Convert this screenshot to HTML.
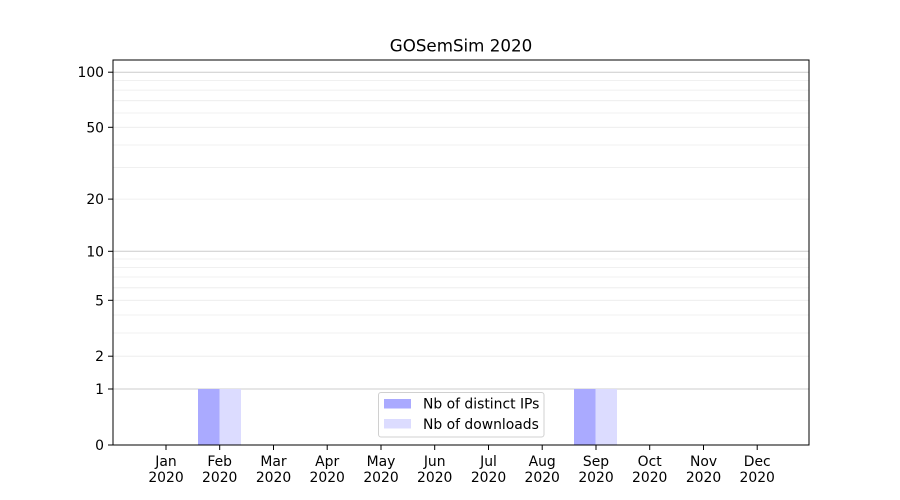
<!DOCTYPE html>
<html><head><meta charset="utf-8"><style>body{margin:0;background:#fff}svg{display:block}text{font-family:"DejaVu Sans","Liberation Sans",sans-serif;fill:#000}</style></head>
<body>
<svg width="900" height="500" viewBox="0 0 900 500">
<rect width="900" height="500" fill="#fff"/>
<g stroke="#ebebeb" stroke-width="0.8">
<line x1="113" x2="809" y1="356.2" y2="356.2"/><line x1="113" x2="809" y1="333" y2="333"/><line x1="113" x2="809" y1="315" y2="315"/><line x1="113" x2="809" y1="300.3" y2="300.3"/><line x1="113" x2="809" y1="287.8" y2="287.8"/><line x1="113" x2="809" y1="277" y2="277"/><line x1="113" x2="809" y1="267.5" y2="267.5"/><line x1="113" x2="809" y1="259" y2="259"/>
<line x1="113" x2="809" y1="199.1" y2="199.1"/><line x1="113" x2="809" y1="167.6" y2="167.6"/><line x1="113" x2="809" y1="145" y2="145"/><line x1="113" x2="809" y1="127.3" y2="127.3"/><line x1="113" x2="809" y1="113" y2="113"/><line x1="113" x2="809" y1="100.7" y2="100.7"/><line x1="113" x2="809" y1="90.1" y2="90.1"/><line x1="113" x2="809" y1="80.6" y2="80.6"/>
</g>
<g stroke="#cccccc" stroke-width="1">
<line x1="113" x2="809" y1="389" y2="389"/><line x1="113" x2="809" y1="251.3" y2="251.3"/><line x1="113" x2="809" y1="72.2" y2="72.2"/>
</g>
<rect x="198" y="389" width="21.5" height="56" fill="#aaaaff"/>
<rect x="219.5" y="389" width="21.5" height="56" fill="#dcdcff"/>
<rect x="574" y="389" width="21.5" height="56" fill="#aaaaff"/>
<rect x="595.5" y="389" width="21.5" height="56" fill="#dcdcff"/>
<rect x="113" y="60" width="696" height="385" fill="none" stroke="#000" stroke-width="1"/>
<g stroke="#000" stroke-width="1">
<line x1="108" x2="113" y1="445" y2="445"/><line x1="108" x2="113" y1="389" y2="389"/><line x1="108" x2="113" y1="356.2" y2="356.2"/><line x1="108" x2="113" y1="300.3" y2="300.3"/><line x1="108" x2="113" y1="251.3" y2="251.3"/><line x1="108" x2="113" y1="199.1" y2="199.1"/><line x1="108" x2="113" y1="127.3" y2="127.3"/><line x1="108" x2="113" y1="72.2" y2="72.2"/>
</g>
<g font-size="13.9" text-anchor="end">
<text x="104" y="450">0</text><text x="104" y="394">1</text><text x="104" y="361.2">2</text><text x="104" y="305.3">5</text><text x="104" y="256.3">10</text><text x="104" y="204.1">20</text><text x="104" y="132.3">50</text><text x="104" y="77.2">100</text>
</g>
<g stroke="#000" stroke-width="1">
<line x1="166" x2="166" y1="445" y2="450"/><line x1="219.7" x2="219.7" y1="445" y2="450"/><line x1="273.5" x2="273.5" y1="445" y2="450"/><line x1="327.2" x2="327.2" y1="445" y2="450"/><line x1="381" x2="381" y1="445" y2="450"/><line x1="434.7" x2="434.7" y1="445" y2="450"/><line x1="488.5" x2="488.5" y1="445" y2="450"/><line x1="542.2" x2="542.2" y1="445" y2="450"/><line x1="596" x2="596" y1="445" y2="450"/><line x1="649.7" x2="649.7" y1="445" y2="450"/><line x1="703.5" x2="703.5" y1="445" y2="450"/><line x1="757.2" x2="757.2" y1="445" y2="450"/>
</g>
<g font-size="13.9" text-anchor="middle">
<text x="166" y="466">Jan</text><text x="166" y="482">2020</text>
<text x="219.7" y="466">Feb</text><text x="219.7" y="482">2020</text>
<text x="273.5" y="466">Mar</text><text x="273.5" y="482">2020</text>
<text x="327.2" y="466">Apr</text><text x="327.2" y="482">2020</text>
<text x="381" y="466">May</text><text x="381" y="482">2020</text>
<text x="434.7" y="466">Jun</text><text x="434.7" y="482">2020</text>
<text x="488.5" y="466">Jul</text><text x="488.5" y="482">2020</text>
<text x="542.2" y="466">Aug</text><text x="542.2" y="482">2020</text>
<text x="596" y="466">Sep</text><text x="596" y="482">2020</text>
<text x="649.7" y="466">Oct</text><text x="649.7" y="482">2020</text>
<text x="703.5" y="466">Nov</text><text x="703.5" y="482">2020</text>
<text x="757.2" y="466">Dec</text><text x="757.2" y="482">2020</text>
</g>
<text x="461" y="51.5" font-size="16.7" text-anchor="middle">GOSemSim 2020</text>
<rect x="378.5" y="392.5" width="165.5" height="44.5" rx="2.5" fill="#fff" fill-opacity="0.8" stroke="#d0d0d0"/>
<rect x="384" y="399" width="27" height="9.5" fill="#aaaaff"/>
<rect x="384" y="419" width="27" height="9.5" fill="#dcdcff"/>
<text x="423" y="408.5" font-size="13.9">Nb of distinct IPs</text>
<text x="423" y="429" font-size="13.9">Nb of downloads</text>
</svg>
</body></html>
